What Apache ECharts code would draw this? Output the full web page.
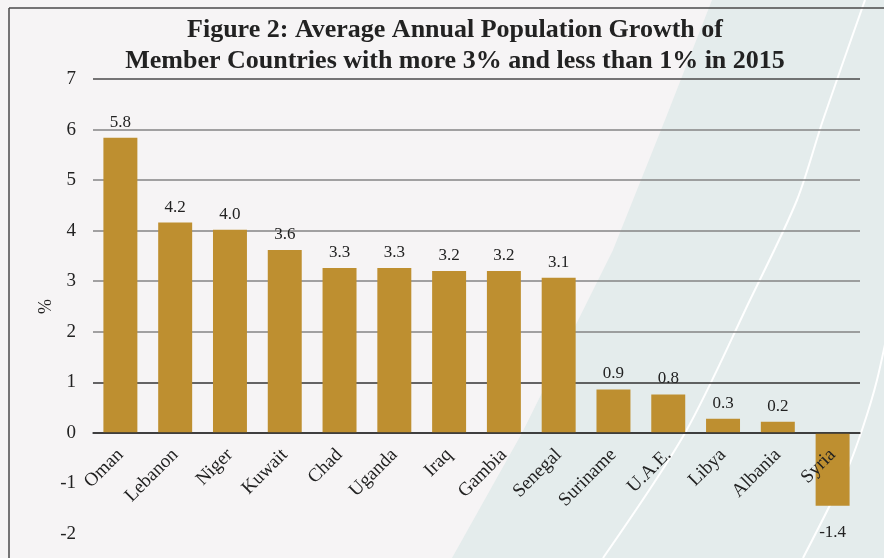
<!DOCTYPE html>
<html>
<head>
<meta charset="utf-8">
<script src="https://cdn.jsdelivr.net/npm/echarts@6/dist/echarts.min.js"></script>
<style>
html,body{margin:0;padding:0;background:#f6f4f5;}
#c{width:884px;height:558px;}
</style>
</head>
<body>
<div id="c"></div>
<script>
const titleLines = ['Figure 2: Average Annual Population Growth of', 'Member Countries with more 3% and less than 1% in 2015'];
const categories = ['Oman','Lebanon','Niger','Kuwait','Chad','Uganda','Iraq','Gambia','Senegal','Suriname','U.A.E.','Libya','Albania','Syria'];
const growth = [5.84, 4.16, 4.02, 3.62, 3.26, 3.26, 3.2, 3.2, 3.07, 0.86, 0.76, 0.28, 0.22, -1.44];
const yTicks = [-2, -1, 0, 1, 2, 3, 4, 5, 6, 7];
const yName = '%';

const FONT = '"Liberation Serif", "Times New Roman", serif';
const chart = echarts.init(document.getElementById('c'), null, {renderer: 'canvas'});

// per-tick gridline colours, from min (-2) upward
const gridColors = yTicks.map(t => t < 0 ? 'rgba(0,0,0,0)' : (t === 0 || t === 1) ? '#333333' : (t === 7 ? '#4a4a4a' : '#858585'));

const titleFont = 'bold 26px ' + FONT;

chart.setOption({
  backgroundColor: '#f6f4f5',
  animation: false,
  graphic: [
    {type: 'polygon', z: -10, shape: {points: [[712,0],[665,120],[613,250],[522,433],[452,558],[884,558],[884,0]]}, style: {fill: '#e4ecec'}},
    {type: 'polyline', z: -9, shape: {points: [[865,0],[823,120],[797,200],[750,300],[685,433],[603,558]], smooth: 0.3}, style: {stroke: '#ffffff', lineWidth: 2, fill: null}},
    {type: 'polyline', z: -9, shape: {points: [[890,320],[877,380],[863,427],[847,470],[803,558]], smooth: 0.3}, style: {stroke: '#ffffff', lineWidth: 2, fill: null}},
    {type: 'line', z: 50, shape: {x1: 9, y1: 8, x2: 884, y2: 8}, style: {stroke: '#4a4a4a', lineWidth: 1.5}},
    {type: 'line', z: 50, shape: {x1: 9, y1: 8, x2: 9, y2: 558}, style: {stroke: '#4a4a4a', lineWidth: 1.5}},
    {type: 'text', z: 50, x: 455, y: 30, style: {text: titleLines[0], font: titleFont, fill: '#222222', align: 'center', verticalAlign: 'middle', textAlign: 'center', textVerticalAlign: 'middle'}},
    {type: 'text', z: 50, x: 455, y: 61, style: {text: titleLines[1], font: titleFont, fill: '#222222', align: 'center', verticalAlign: 'middle', textAlign: 'center', textVerticalAlign: 'middle'}}
  ],
  grid: {left: 93, right: 24, top: 79, bottom: 24, containLabel: false, outerBoundsMode: 'none'},
  xAxis: {
    type: 'category',
    data: categories,
    z: 10,
    axisLine: {show: true, onZero: true, lineStyle: {color: '#333333', width: 1.5}},
    axisTick: {show: false},
    axisLabel: {rotate: 45, interval: 0, fontFamily: FONT, fontSize: 19, color: '#222222', margin: -82}
  },
  yAxis: {
    type: 'value',
    min: yTicks[0],
    max: yTicks[yTicks.length - 1],
    interval: 1,
    name: yName,
    nameLocation: 'middle',
    nameGap: 38,
    nameMoveOverlap: false,
    nameRotate: 90,
    nameTextStyle: {fontFamily: FONT, fontSize: 18, color: '#222222'},
    axisLine: {show: false},
    axisTick: {show: false},
    minorTick: {show: false},
    axisLabel: {fontFamily: FONT, fontSize: 19, color: '#222222', margin: 17},
    splitLine: {show: true, lineStyle: {color: gridColors, width: 1.5}}
  },
  series: [{
    type: 'bar',
    data: growth.map(v => v < 0 ? {value: v, label: {position: 'bottom', distance: 18}} : {value: v}),
    barCategoryGap: '38%',
    itemStyle: {color: '#be8f30'},
    label: {
      show: true,
      position: 'top',
      distance: 7,
      fontFamily: FONT,
      fontSize: 17,
      color: '#222222',
      formatter: p => p.value.toFixed(1)
    }
  }]
});
</script>
</body>
</html>
